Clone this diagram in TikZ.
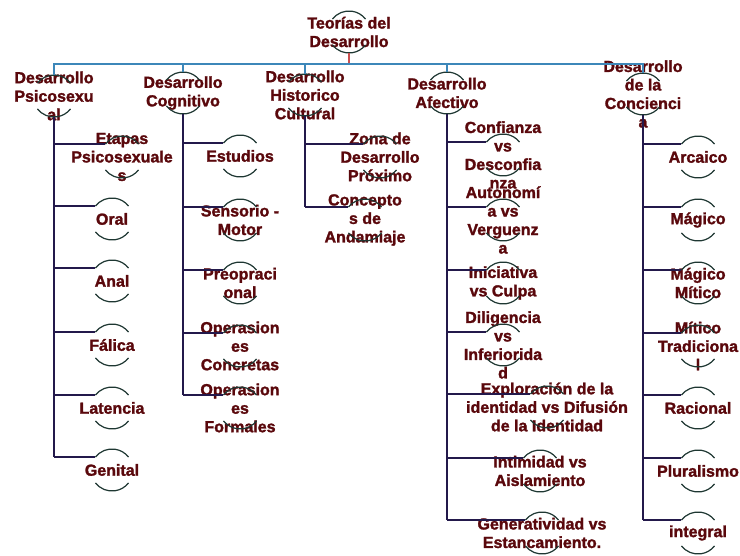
\documentclass[tikz,border=0pt]{standalone}
\usepackage{fontspec}
\setmainfont{Liberation Sans}[BoldFeatures={FakeBold=1.6}]
\definecolor{txtred}{RGB}{90,8,12}
\definecolor{arcgreen}{RGB}{30,55,50}
\definecolor{navyc}{RGB}{35,25,75}
\definecolor{busblue}{RGB}{60,135,185}
\definecolor{rootred}{RGB}{200,80,80}
\newcommand\mknode[4]{\node[ring,label={[txt]center:#4}] (#1) at (#2,-#3) {};}
\begin{document}
\begin{tikzpicture}[x=1pt,y=1pt,
  txt/.style={font=\bfseries\fontsize{16}{18.5}\selectfont, text=txtred, align=center, inner sep=0pt},
  ring/.style={circle, minimum size=42pt, inner sep=0pt, outer sep=0pt, draw=none},
  arcline/.style={draw=arcgreen, line width=1.2pt},
  busline/.style={draw=busblue, line width=1.4pt},
  rootline/.style={draw=rootred, line width=1.4pt},
  spineline/.style={draw=navyc, line width=1.4pt},
  branchline/.style={draw=navyc, line width=2pt}]
\useasboundingbox[fill=white] (0,0) rectangle (740,-556);
\coordinate (busy) at (0,-64);
% root
\mknode{root}{349}{32}{Teorías del\\Desarrollo}
% level 1
\mknode{psi}{54}{96}{Desarrollo\\Psicosexu\\al}
\mknode{cog}{183}{93}{Desarrollo\\Cognitivo}
\mknode{his}{305}{95}{Desarrollo\\Historico\\Cultural}
\mknode{afe}{447}{93}{Desarrollo\\Afectivo}
\mknode{con}{643}{94}{Desarrollo\\de la\\Concienci\\a}
% psicosexual
\mknode{eta}{122}{157}{Etapas\\Psicosexuale\\s}
\mknode{ora}{112}{219}{Oral}
\mknode{ana}{112}{281}{Anal}
\mknode{fal}{112}{345}{Fálica}
\mknode{lat}{112}{408}{Latencia}
\mknode{gen}{112}{470}{Genital}
% cognitivo
\mknode{est}{240}{156}{Estudios}
\mknode{sen}{240}{220}{Sensorio -\\Motor}
\mknode{pre}{240}{283}{Preopraci\\onal}
\mknode{opc}{240}{346}{Operasion\\es\\Concretas}
\mknode{opf}{240}{408}{Operasion\\es\\Formales}
% historico
\mknode{zon}{380}{157}{Zona de\\Desarrollo\\Próximo}
\mknode{cpt}{365}{220}{Concepto\\s de\\Andamiaje}
% afectivo
\mknode{cvd}{503}{155}{Confianza\\vs\\Desconfia\\nza}
\mknode{avv}{503}{220}{Autonomí\\a vs\\Verguenz\\a}
\mknode{ivc}{503}{283}{Iniciativa\\vs Culpa}
\mknode{dvi}{503}{345}{Diligencia\\vs\\Inferiorida\\d}
\mknode{exp}{547}{407}{Exploración de la\\identidad vs Difusión\\de la Identidad}
\mknode{int}{540}{471}{Intimidad vs\\Aislamiento}
\mknode{gvs}{542}{533}{Generatividad vs\\Estancamiento.}
% conciencia
\mknode{arc}{698}{157}{Arcaico}
\mknode{mag}{698}{220}{Mágico}
\mknode{mmi}{698}{283}{Mágico\\Mítico}
\mknode{mtr}{698}{346}{Mítico\\Tradiciona\\l}
\mknode{rac}{698}{408}{Racional}
\mknode{plu}{698}{471}{Pluralismo}
\mknode{ing}{698}{533}{integral}
% arcs
\foreach \n in {root,psi,cog,his,afe,con,eta,ora,ana,fal,lat,gen,est,sen,pre,opc,opf,zon,cpt,cvd,avv,ivc,dvi,exp,int,gvs,arc,mag,mmi,mtr,rac,plu,ing}{
  \draw[arcline] (\n.142) arc[start angle=142, end angle=38, radius=21pt];
  \draw[arcline] (\n.218) arc[start angle=218, end angle=322, radius=21pt];
}
% root connector and bus
\draw[rootline] (root.south) -- (root.south |- busy);
\draw[busline] (psi.north) -- (psi.north |- busy) -- (con.north |- busy) -- (con.north);
\foreach \n in {cog,his,afe}{\draw[busline] (\n.north) -- (\n.north |- busy);}
% spines
\draw[spineline] (psi.south) -- (psi.south |- gen.142);
\draw[spineline] (cog.south) -- (cog.south |- opf.142);
\draw[spineline] (his.south) -- (his.south |- cpt.142);
\draw[spineline] (afe.south) -- (afe.south |- gvs.142);
\draw[spineline] (con.south) -- (con.south |- ing.142);
% branches
\foreach \p/\c in {psi/eta,psi/ora,psi/ana,psi/fal,psi/lat,psi/gen,
  cog/est,cog/sen,cog/pre,cog/opc,cog/opf,his/zon,his/cpt,
  afe/cvd,afe/avv,afe/ivc,afe/dvi,afe/exp,afe/int,afe/gvs,
  con/arc,con/mag,con/mmi,con/mtr,con/rac,con/plu,con/ing}{
  \draw[branchline] (\p.south |- \c.142) -- (\c.142);
}
\end{tikzpicture}
\end{document}
